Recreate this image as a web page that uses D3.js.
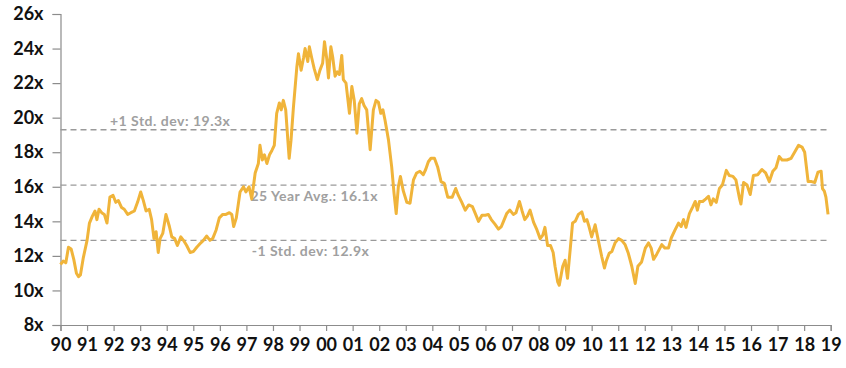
<!DOCTYPE html>
<html><head><meta charset="utf-8">
<script src="https://cdn.jsdelivr.net/npm/d3@7"></script>
<style>
html,body{margin:0;padding:0;background:#fff;}
svg{display:block;}
</style></head>
<body>
<svg id="chart" width="846" height="368"></svg>
<script>
// ---- data ----
const dates = [
1990.00,1990.10,1990.20,1990.30,1990.40,1990.50,1990.60,1990.68,1990.75,1990.86,
1991.00,1991.09,1991.20,1991.30,1991.37,1991.45,1991.55,1991.65,1991.75,1991.86,1991.98,
1992.08,1992.18,1992.30,1992.40,1992.53,1992.65,1992.78,1992.90,
1993.02,1993.12,1993.22,1993.34,1993.43,1993.52,1993.60,1993.68,1993.75,1993.85,1993.97,
1994.10,1994.19,1994.30,1994.40,1994.53,1994.63,1994.75,1994.88,
1995.00,1995.13,1995.25,1995.38,1995.50,1995.63,1995.73,1995.86,1995.98,
1996.11,1996.23,1996.36,1996.45,1996.52,1996.62,1996.76,1996.89,1996.98,
1997.10,1997.20,1997.33,1997.45,1997.51,1997.60,1997.68,1997.77,1997.87,1997.96,
1998.05,1998.14,1998.24,1998.31,1998.39,1998.48,1998.56,1998.61,1998.68,1998.77,1998.90,1998.96,
1999.06,1999.15,1999.21,1999.31,1999.37,1999.46,1999.55,1999.67,1999.77,1999.87,1999.94,
2000.03,2000.09,2000.18,2000.25,2000.34,2000.42,2000.50,2000.59,2000.65,2000.75,2000.88,2000.97,
2001.06,2001.16,2001.25,2001.34,2001.43,2001.53,2001.66,2001.78,2001.88,2001.97,
2002.06,2002.14,2002.22,2002.35,2002.47,2002.56,2002.64,2002.72,2002.80,2002.90,
2003.04,2003.16,2003.29,2003.41,2003.53,2003.66,2003.75,2003.85,2003.95,
2004.08,2004.20,2004.33,2004.45,2004.58,2004.75,2004.88,2004.98,
2005.11,2005.24,2005.37,2005.51,2005.62,2005.74,2005.87,
2006.00,2006.11,2006.22,2006.35,2006.49,2006.60,2006.68,2006.80,2006.92,
2007.05,2007.15,2007.28,2007.38,2007.48,2007.58,2007.68,2007.81,2007.94,
2008.06,2008.16,2008.24,2008.34,2008.45,2008.55,2008.62,2008.72,2008.78,2008.91,
2009.00,2009.09,2009.19,2009.28,2009.38,2009.50,2009.63,2009.73,2009.82,2009.90,
2010.00,2010.13,2010.25,2010.38,2010.48,2010.56,2010.66,2010.76,2010.88,
2011.01,2011.13,2011.26,2011.38,2011.51,2011.64,2011.74,2011.88,
2012.02,2012.14,2012.24,2012.33,2012.45,2012.64,2012.76,2012.89,
2013.00,2013.14,2013.27,2013.37,2013.46,2013.55,2013.68,2013.81,2013.90,2013.98,
2014.06,2014.18,2014.30,2014.40,2014.49,2014.58,2014.69,2014.81,2014.92,
2015.07,2015.18,2015.32,2015.43,2015.57,2015.62,2015.72,2015.85,2015.97,
2016.09,2016.25,2016.41,2016.55,2016.69,2016.82,2016.94,
2017.06,2017.17,2017.35,2017.51,2017.64,2017.79,2017.92,
2018.02,2018.15,2018.28,2018.40,2018.52,2018.64,2018.69,2018.76,2018.82,2018.90
];
const forwardPE = [
11.5,11.7,11.6,12.5,12.4,11.8,11.0,10.8,10.9,11.9,
12.9,13.9,14.3,14.6,14.1,14.7,14.5,14.4,13.9,15.4,15.5,
15.1,15.2,14.8,14.7,14.4,14.5,14.6,15.1,
15.7,15.2,14.6,14.7,14.1,13.0,13.4,12.2,13.0,13.3,14.4,
13.7,13.1,13.0,12.6,13.1,12.9,12.6,12.2,
12.25,12.5,12.7,12.9,13.15,12.9,13.0,13.5,14.2,
14.4,14.4,14.5,14.4,13.7,14.2,15.7,16.0,15.7,
16.0,15.3,16.8,17.35,18.4,17.55,17.85,17.35,17.85,18.1,
18.4,20.25,20.85,20.45,21.0,20.45,18.7,17.65,18.7,20.6,22.95,23.7,
22.75,23.45,24.0,23.25,24.1,23.45,22.85,22.2,22.75,23.15,24.4,
23.35,22.3,24.1,23.5,22.4,22.65,22.5,23.6,22.2,22.0,20.25,21.8,
21.0,19.1,20.8,21.1,20.7,20.45,18.15,20.45,21.0,20.9,
20.25,20.45,19.85,18.7,17.15,15.6,14.45,16.0,16.6,15.8,
15.1,15.05,16.4,16.8,16.9,16.7,17.0,17.45,17.65,
17.65,17.15,16.3,16.2,15.4,15.4,15.9,15.5,
15.1,14.65,14.95,14.85,14.45,14.0,14.35,
14.35,14.4,14.1,13.85,13.55,13.7,14.0,14.45,14.65,
14.4,14.5,15.15,14.6,14.1,14.3,14.65,13.95,13.5,
13.0,13.2,13.65,12.6,12.6,12.2,11.4,10.5,10.3,11.4,
11.75,10.7,12.35,13.9,14.0,14.4,14.55,14.0,14.1,13.7,
13.1,13.8,12.9,11.95,11.3,11.75,12.15,12.25,12.75,
13.0,12.9,12.65,12.15,11.4,10.4,11.4,11.65,
12.45,12.75,12.45,11.8,12.1,12.65,12.45,12.45,
13.05,13.5,13.9,13.7,14.1,13.65,14.45,14.85,15.15,14.65,
15.15,15.15,15.3,15.45,14.95,15.3,15.1,15.9,16.1,
16.95,16.65,16.6,16.4,15.3,15.0,16.25,16.1,15.55,
16.65,16.7,17.0,16.8,16.3,16.9,17.1,
17.75,17.55,17.55,17.65,18.0,18.4,18.3,
18.0,16.3,16.3,16.25,16.85,16.9,15.9,15.75,15.4,14.4
];
const yearTicks = d3.range(1990, 2020);
const yearLabels = ["90","91","92","93","94","95","96","97","98","99","00","01","02","03","04","05","06","07","08","09","10","11","12","13","14","15","16","17","18","19"];
const yTicks = [8,10,12,14,16,18,20,22,24,26];
const refValues = [19.3, 16.1, 12.9];
const refLabels = ["+1 Std. dev: 19.3x", "25 Year Avg.: 16.1x", "-1 Std. dev: 12.9x"];
const refLabelStart = [1991.86, 1997.15, 1997.2];

// ---- chart ----
const svg = d3.select("#chart");
const x = d3.scaleLinear().domain([1990, 2019]).range([60.5, 830.7]);
const y = d3.scaleLinear().domain([8, 26]).range([325, 14]);
const font = "Lato, 'Open Sans', sans-serif";

// y axis
const yAx = svg.append("g").attr("transform", "translate(60.5,0)")
  .call(d3.axisLeft(y).tickValues(yTicks).tickFormat(d => d + "x").tickSize(8).tickPadding(9));
// x axis
const xAx = svg.append("g").attr("transform", "translate(0,325)")
  .call(d3.axisBottom(x).tickValues(yearTicks).tickFormat((d, i) => yearLabels[i]).tickSize(6).tickPadding(10));
[yAx, xAx].forEach(g => {
  g.select(".domain").attr("stroke", "#8c8c8c").attr("stroke-width", 1.2);
  g.selectAll(".tick line").attr("stroke", "#8c8c8c").attr("stroke-width", 1.2);
  g.selectAll(".tick text").attr("fill", "#111").style("font-family", font)
    .style("font-size", "18px").style("font-weight", "700");
});
xAx.selectAll(".tick text").attr("dy", "0.55em");

// reference lines
const endYear = dates[dates.length - 1];
svg.selectAll("line.ref").data(refValues).enter().append("line")
  .attr("class", "ref")
  .attr("x1", x(1990)).attr("x2", x(endYear))
  .attr("y1", d => y(d)).attr("y2", d => y(d))
  .attr("stroke", "#9a9a9a").attr("stroke-width", 1.3)
  .attr("stroke-dasharray", "6,4");

svg.selectAll("text.ref").data(refValues).enter().append("text")
  .attr("class", "ref")
  .attr("x", (d, i) => x(refLabelStart[i]))
  .attr("y", (d, i) => y(d) + (i === 0 ? -4 : 16))
  .attr("fill", "#a0a0a0")
  .style("font-family", font).style("font-size", "14px").style("font-weight", "700")
  .style("letter-spacing", "0.5px")
  .text((d, i) => refLabels[i]);

// line
const pts = dates.map((d, i) => [d, forwardPE[i]]);
svg.append("path").datum(pts)
  .attr("fill", "none").attr("stroke", "#F0B43A").attr("stroke-width", 3)
  .attr("stroke-linejoin", "round")
  .attr("d", d3.line().x(d => x(d[0])).y(d => y(d[1])));
</script>
</body></html>
